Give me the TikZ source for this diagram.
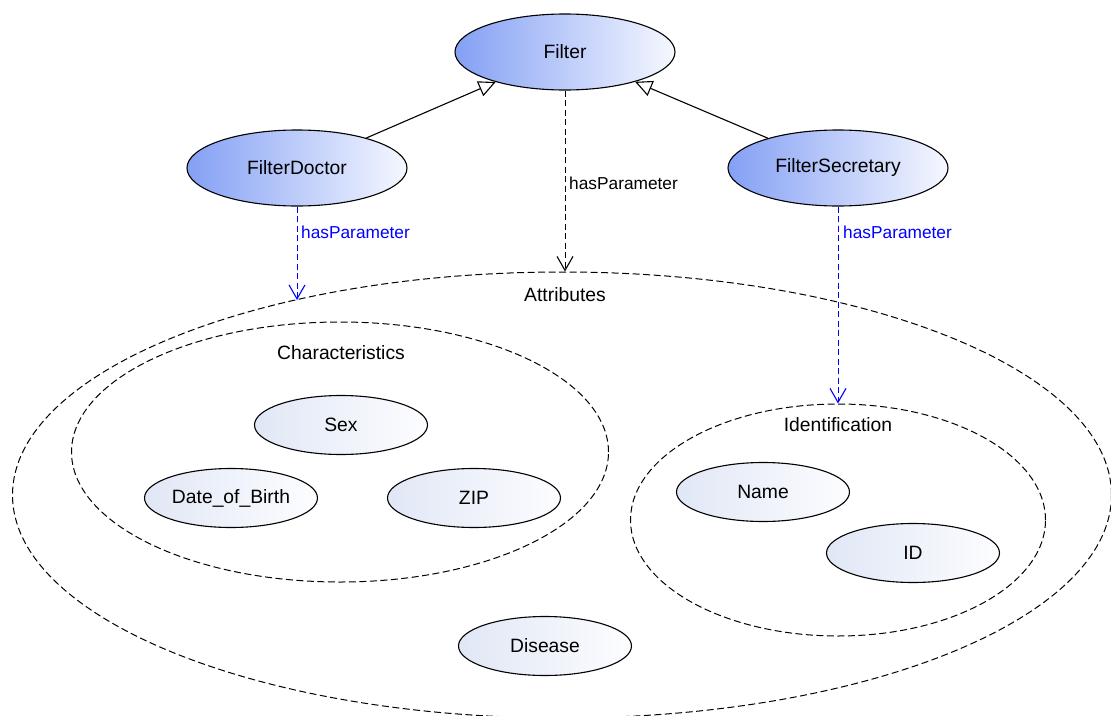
\documentclass[tikz,border=0pt]{standalone}
\usepackage{fontspec}
\setmainfont{Liberation Sans}
\usetikzlibrary{shapes.geometric,arrows.meta}

\definecolor{classdark}{RGB}{132,160,244}
\definecolor{classlight}{RGB}{246,248,255}
\definecolor{indivdark}{RGB}{224,231,245}
\definecolor{indivlight}{RGB}{253,253,255}
\definecolor{parblue}{RGB}{0,0,255}

\tikzset{
  nodefont/.style={font=\fontsize{19.3}{22}\selectfont},
  classnode/.style={ellipse, draw, line width=1.1pt, left color=classdark,
    right color=classlight, minimum width=220pt, minimum height=76pt,
    inner sep=0pt, nodefont},
  indiv/.style={ellipse, draw, line width=1.1pt, left color=indivdark,
    right color=indivlight, minimum width=173pt, minimum height=59pt,
    inner sep=0pt, nodefont},
  group/.style={ellipse, draw, line width=1pt, dash pattern=on 7pt off 3.5pt,
    inner sep=0pt},
  grouplabel/.style={nodefont, inner sep=0pt},
  edgelabel/.style={font=\fontsize{17.3}{20}\selectfont, inner sep=0pt, anchor=west},
  subclass/.style={line width=1.1pt, -{Triangle[open, length=17pt, width=16pt, line width=1.1pt]}},
  param/.style={line width=0.9pt, dash pattern=on 6pt off 3.5pt,
    -{Straight Barb[length=14pt, width=16pt, line width=1.1pt]}},
}

\begin{document}
\begin{tikzpicture}[x=1pt, y=-1pt]
  \useasboundingbox (0,0) rectangle (1111,715);
  \clip (0,0) rectangle (1111,715);

  % groups of attributes
  \node[group, minimum width=1099pt, minimum height=446pt] (attr) at (562,495) {};
  \node[grouplabel] (attrlabel) at (565,295) {Attributes};

  \node[group, minimum width=537pt, minimum height=260pt] (charac) at (340,452) {};
  \node[grouplabel] (characlabel) at (341,353) {Characteristics};

  \node[group, minimum width=415pt, minimum height=232pt] (ident) at (838,520) {};
  \node[grouplabel] (identlabel) at (838,425) {Identification};

  % individual attributes
  \node[indiv] (sex) at (341,425) {Sex};
  \node[indiv] (dob) at (231,498) {Date\_of\_Birth};
  \node[indiv] (zip) at (474,498) {ZIP};
  \node[indiv] (name) at (763,492) {Name};
  \node[indiv] (id) at (913,553) {ID};
  \node[indiv] (disease) at (545,646) {Disease};

  % filter classes
  \node[classnode] (filter) at (565,52) {Filter};
  \node[classnode] (fdoc) at (297,168) {FilterDoctor};
  \node[classnode] (fsec) at (838,168) {FilterSecretary};

  % subclass relations
  \draw[subclass] (fdoc) -- (filter);
  \draw[subclass] (fsec) -- (filter);

  % hasParameter relations
  \draw[param] (filter.south) -- (filter.south |- attr.north);
  \node[edgelabel] (lblfilter) at (569,183) {hasParameter};

  \coordinate (docend) at (297,300);
  \draw[param, parblue] (fdoc.south) -- (docend);
  \node[edgelabel, text=parblue] (lbldoc) at (301,232) {hasParameter};

  \draw[param, parblue] (fsec.south) -- (ident.north);
  \node[edgelabel, text=parblue] (lblsec) at (843,232) {hasParameter};
\end{tikzpicture}
\end{document}
